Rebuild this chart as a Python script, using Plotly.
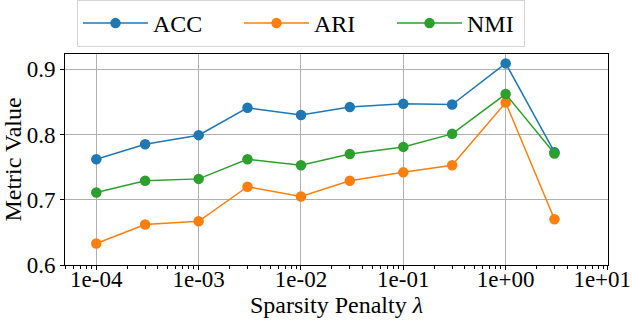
import plotly.graph_objects as go

lambdas = [1e-4, 3e-4, 1e-3, 3e-3, 1e-2, 3e-2, 1e-1, 3e-1, 1e0, 3e0]
acc = [0.762, 0.785, 0.799, 0.841, 0.830, 0.842, 0.847, 0.846, 0.909, 0.773]
ari = [0.633, 0.662, 0.667, 0.720, 0.705, 0.729, 0.742, 0.753, 0.849, 0.670]
nmi = [0.711, 0.729, 0.732, 0.762, 0.753, 0.770, 0.781, 0.801, 0.862, 0.771]

x_ticks = [1e-4, 1e-3, 1e-2, 1e-1, 1e0, 1e1]
# the last label sits a little left of its tick in the original, padded with nbsp
x_labels = ['1e-04', '1e-03', '1e-02', '1e-01', '1e+00', '1e+01\u00a0\u00a0']
y_ticks = [0.6, 0.7, 0.8, 0.9]
y_labels = ['0.6', '0.7', '0.8', '0.9']

font = 'Liberation Serif'
tick_font = dict(family=font, size=23, color='black')
title_font = dict(family=font, size=24, color='black')

fig = go.Figure()
# legendwidth per entry so the legend spacing follows the text widths
series = [('ACC', acc, '#1f77b4', 81), ('ARI', ari, '#ff7f0e', 73), ('NMI', nmi, '#2ca02c', 52)]
for name, vals, col, lw in series:
    fig.add_trace(go.Scatter(x=lambdas, y=vals, mode='lines+markers', name=name,
                             line=dict(color=col, width=1.5),
                             marker=dict(color=col, size=10.5),
                             legendwidth=lw))

fig.update_layout(
    width=632, height=322,
    margin=dict(l=65, r=24, t=54, b=57),
    paper_bgcolor='white', plot_bgcolor='white',
    font=dict(family=font, size=22, color='black'),
    legend=dict(orientation='h', xref='container', yref='container',
                x=77 / 632, xanchor='left', y=1.0, yanchor='top',
                bordercolor='#d4d4d4', borderwidth=1, bgcolor='white',
                font=dict(family=font, size=24, color='black'),
                itemwidth=65),
)
fig.update_xaxes(type='log', range=[-4.306, 1.0002], tickvals=x_ticks, ticktext=x_labels,
                 tickfont=tick_font, automargin=False, ticklabeloverflow='allow',
                 ticklabelstandoff=-11,
                 showline=True, linecolor='black', linewidth=1, mirror=True,
                 ticks='outside', ticklen=4, tickcolor='black',
                 showgrid=True, gridcolor='#b0b0b0', gridwidth=1,
                 minor=dict(ticks='outside', ticklen=2.5, tickcolor='black', dtick='D1', showgrid=False),
                 title=dict(text='Sparsity Penalty <i>λ</i>', standoff=0, font=title_font),
                 zeroline=False)
fig.update_yaxes(range=[0.6, 0.9234], tickvals=y_ticks, ticktext=y_labels,
                 tickfont=tick_font, automargin=False,
                 showline=True, linecolor='black', linewidth=1, mirror=True,
                 ticks='outside', ticklen=4, tickcolor='black',
                 showgrid=True, gridcolor='#b0b0b0', gridwidth=1,
                 title=dict(text='Metric Value', standoff=7, font=title_font),
                 zeroline=False)

# the page's default body margin would shift the figure by 8px
fig.write_html('out.html', config={'displayModeBar': False},
               post_script="document.body.style.margin='0';")
